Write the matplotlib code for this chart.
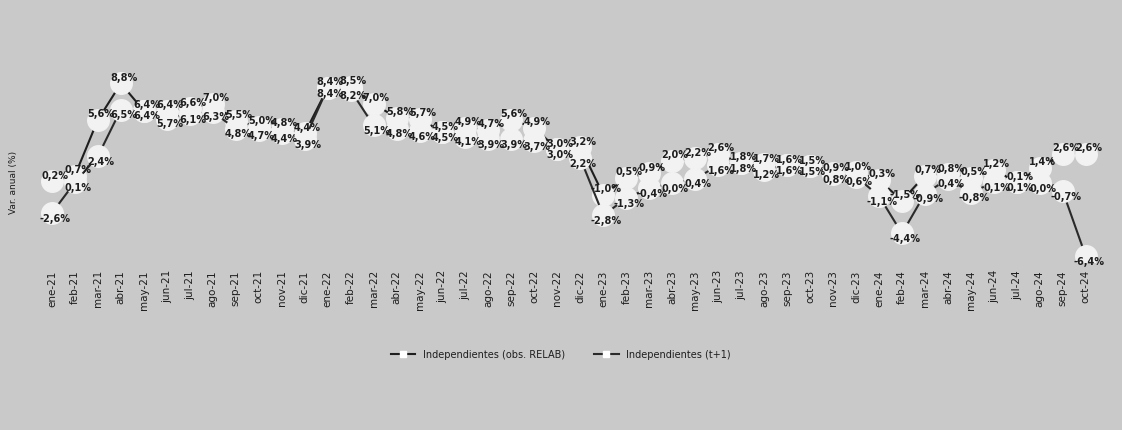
import matplotlib.pyplot as plt
from matplotlib.lines import Line2D

# Months on the x axis
months = ['ene-21', 'feb-21', 'mar-21', 'abr-21', 'may-21', 'jun-21', 'jul-21', 'ago-21',
          'sep-21', 'oct-21', 'nov-21', 'dic-21', 'ene-22', 'feb-22', 'mar-22', 'abr-22',
          'may-22', 'jun-22', 'jul-22', 'ago-22', 'sep-22', 'oct-22', 'nov-22', 'dic-22',
          'ene-23', 'feb-23', 'mar-23', 'abr-23', 'may-23', 'jun-23', 'jul-23', 'ago-23',
          'sep-23', 'oct-23', 'nov-23', 'dic-23', 'ene-24', 'feb-24', 'mar-24', 'abr-24',
          'may-24', 'jun-24', 'jul-24', 'ago-24', 'sep-24', 'oct-24']

# Var. anual (%)
obs_relab = [0.2, 0.7, 5.6, 8.8, 6.4, 6.4, 6.6, 7.0, 5.5, 5.0, 4.8, 4.4,
             8.4, 8.5, 7.0, 5.8, 5.7, 4.5, 4.9, 4.7, 5.6, 4.9, 3.0, 3.2,
             -1.0, 0.5, 0.9, 2.0, 2.2, 2.6, 1.8, 1.7, 1.6, 1.5, 0.9, 1.0,
             0.3, -1.5, 0.7, 0.8, 0.5, 1.2, 0.1, 1.4, 2.6, 2.6]
t_plus_1 = [-2.6, 0.1, 2.4, 6.5, 6.4, 5.7, 6.1, 6.3, 4.8, 4.7, 4.4, 3.9,
            8.4, 8.2, 5.1, 4.8, 4.6, 4.5, 4.1, 3.9, 3.9, 3.7, 3.0, 2.2,
            -2.8, -1.3, -0.4, 0.0, 0.4, 1.6, 1.8, 1.2, 1.6, 1.5, 0.8, 0.6,
            -1.1, -4.4, -0.9, 0.4, -0.8, 0.1, 0.1, 0.0, -0.7, -6.4]

series_names = ['Independientes (obs. RELAB)', 'Independientes (t+1)']

BG = '#c9c9c9'
INK = '#1e1e1e'
DOT = '#f2f2f2'


def fmt(v):
    # Spanish decimal comma
    return f"{v:.1f}%".replace('.', ',')


def draw_series(ax, x, values, color, dy):
    ax.plot(x, values, color=color, linewidth=1.5, marker='o', markersize=15.5,
            markerfacecolor=DOT, markeredgecolor=DOT, zorder=2)
    for xi, v in zip(x, values):
        ax.annotate(fmt(v), (xi, v), xytext=(2, dy), textcoords='offset points',
                    ha='center', va='center', fontsize=7, fontweight='bold',
                    color=INK, zorder=3)


def main():
    fig = plt.figure(figsize=(11.22, 4.30), dpi=100, facecolor=BG)
    ax = fig.add_axes([0.034, 0.391, 0.946, 0.481])
    ax.set_facecolor(BG)

    x = list(range(len(months)))
    draw_series(ax, x, obs_relab, INK, 4)
    draw_series(ax, x, t_plus_1, '#2a2a2a', -4)

    ax.set_xlim(-0.6, len(months) - 0.4)
    ax.set_ylim(-6.9, 11.3)
    ax.set_xticks(x)
    ax.set_xticklabels(months, rotation=90, fontsize=7.5, color=INK)
    ax.set_yticks([])
    ax.tick_params(axis='x', length=0, pad=6)
    for side in ['top', 'right', 'left', 'bottom']:
        ax.spines[side].set_visible(False)

    fig.text(0.012, 0.575, 'Var. anual (%)', rotation=90, ha='center', va='center',
             fontsize=6.5, color=INK)

    # legend with small white square markers, as in the original
    handles = [Line2D([], [], color=INK, linewidth=1.5, marker='s', markersize=5,
                      markerfacecolor='white', markeredgecolor='white'),
               Line2D([], [], color='#2a2a2a', linewidth=1.5, marker='s', markersize=5,
                      markerfacecolor='white', markeredgecolor='white')]
    fig.legend(handles, series_names, loc='center', bbox_to_anchor=(0.5, 0.175), ncol=2,
               frameon=False, fontsize=7, handlelength=2.5, columnspacing=3,
               labelcolor=INK)

    fig.savefig('out.png', dpi=100, facecolor=BG)


if __name__ == '__main__':
    main()
